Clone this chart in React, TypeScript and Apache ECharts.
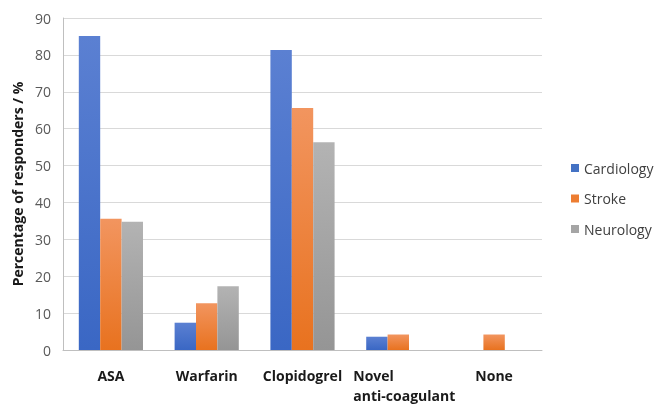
import React, { useEffect, useRef } from "react";
import * as echarts from "echarts";

const categories = ["ASA", "Warfarin", "Clopidogrel", "Novel\nanti-coagulant", "None"];
const cardiology = [85.1, 7.4, 81.3, 3.6, 0];
const stroke = [35.6, 12.7, 65.6, 4.2, 4.2];
const neurology = [34.8, 17.3, 56.3, 0, 0];
const yTicks = { min: 0, max: 90, interval: 10 };

const grad = (top: string, bottom: string) =>
  new echarts.graphic.LinearGradient(0, 0, 0, 1, [
    { offset: 0, color: top },
    { offset: 1, color: bottom },
  ]);

export default function App() {
  const ref = useRef<HTMLDivElement>(null);
  useEffect(() => {
    const chart = echarts.init(ref.current!, undefined, { renderer: "svg" });
    const font = "'Open Sans', 'Liberation Sans', sans-serif";
    const mk = (name: string, data: number[], top: string, bottom: string) => ({
      name,
      type: "bar",
      data,
      barGap: "0%",
      barCategoryGap: "33%",
      itemStyle: { color: grad(top, bottom) },
    });
    chart.setOption({
      animation: false,
      textStyle: { fontFamily: font },
      grid: { left: 63, right: 125, top: 18, bottom: 49 },
      legend: {
        orient: "vertical",
        left: 566,
        top: 156,
        icon: "rect",
        itemWidth: 8,
        itemHeight: 8,
        itemGap: 16.5,
        textStyle: { fontSize: 14, color: "#404040", fontFamily: font },
        data: [
          { name: "Cardiology", itemStyle: { color: "#4472c4" } },
          { name: "Stroke", itemStyle: { color: "#ed7d31" } },
          { name: "Neurology", itemStyle: { color: "#a5a5a5" } },
        ],
      },
      xAxis: {
        type: "category",
        data: categories,
        axisLine: { lineStyle: { color: "#bfbfbf" } },
        axisTick: { show: false },
        axisLabel: {
          margin: 15,
          color: "#1a1a1a",
          fontWeight: "bold",
          fontSize: 14,
          lineHeight: 20,
          interval: 0,
          formatter: (v: string) =>
            v.includes("\n")
              ? v.split("\n").map((s) => `{l|${s}}`).join("\n")
              : v,
          rich: {
            l: { width: 104, align: "left", fontWeight: "bold", fontSize: 14, color: "#1a1a1a", lineHeight: 20, padding: [0, 0, 0, 14] },
          },
        },
      },
      yAxis: {
        type: "value",
        min: yTicks.min,
        max: yTicks.max,
        interval: yTicks.interval,
        name: "Percentage of responders / %",
        nameLocation: "middle",
        nameRotate: 90,
        nameGap: 31,
        nameTextStyle: { fontWeight: "bold", fontSize: 14, color: "#1a1a1a" },
        axisLine: { show: true, lineStyle: { color: "#bfbfbf" } },
        axisTick: { show: false },
        axisLabel: { color: "#595959", fontSize: 14, margin: 12 },
        splitLine: { lineStyle: { color: "#d9d9d9" } },
      },
      series: [
        mk("Cardiology", cardiology, "#5b80d2", "#3a67c4"),
        mk("Stroke", stroke, "#f2955f", "#e8721f"),
        mk("Neurology", neurology, "#b3b3b3", "#959595"),
      ],
    });
    return () => chart.dispose();
  }, []);
  return (
    <div
      ref={ref}
      style={{ position: "fixed", left: 0, top: 0, width: 667, height: 405 }}
    />
  );
}
